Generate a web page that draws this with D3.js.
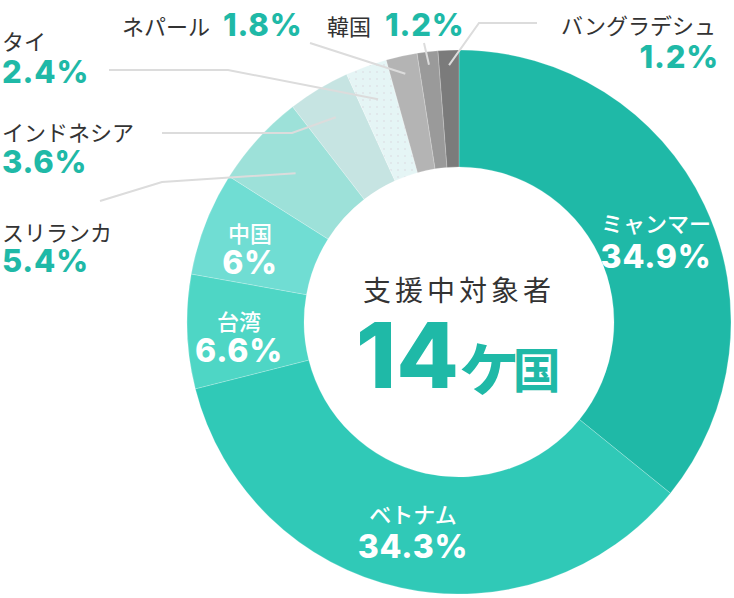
<!DOCTYPE html>
<html><head><meta charset="utf-8">
<script src="https://cdn.jsdelivr.net/npm/d3@7"></script>
<style>
html,body{margin:0;padding:0;background:#fff;}
svg{display:block;}
.jp{font-family:"Noto Sans CJK JP","Noto Sans",sans-serif;}
.num{font-family:Inter,"Noto Sans",sans-serif;font-weight:800;}
</style></head>
<body>
<svg id="chart" width="734" height="598"></svg>
<script>
const countries = ["ミャンマー","ベトナム","台湾","中国","スリランカ","インドネシア","タイ","ネパール","韓国","バングラデシュ"];
const shares = [34.9, 34.3, 6.6, 6, 5.4, 3.6, 2.4, 1.8, 1.2, 1.2];
const sliceColors = ["#1fb9a7","#30c9b7","#4ed6c5","#70ddd3","#9de1d9","#c6e4e2","#e5f5f5","#b4b4b4","#9a9a9a","#7b7b7b"];
const centerTitle = "支援中対象者";
const centerCount = "14";
const centerUnit = ["ヶ","国"];

// layout (positions only)
const cx = 459, cy = 322, rIn = 155, rOut = 272;
const inside = {
  "ミャンマー":{x:656, y1:232, y2:268},
  "ベトナム":{x:413, y1:523, y2:558},
  "台湾":{x:239, y1:330, y2:362},
  "中国":{x:250, y1:242, y2:274}
};
const outside = {
  "スリランカ":{nx:2,ny:241,vx:2,vy:272,anchor:"start",r:221,pts:[[100,201],[162,182]]},
  "インドネシア":{nx:2,ny:141,vx:2,vy:173,anchor:"start",r:239,pts:[[162,133],[292,133]]},
  "タイ":{nx:2,ny:50,vx:2,vy:83,anchor:"start",r:237,pts:[[109,70],[228,70]]},
  "ネパール":{nx:122,ny:35,vx:223,vy:36,anchor:"start",r:254,pts:[[310,43]]},
  "韓国":{nx:327,ny:35,vx:385,vy:36,anchor:"start",r:259,pts:[[424,43]]},
  "バングラデシュ":{nx:716,ny:34,vx:719,vy:68,anchor:"end",r:257,pts:[[537,23],[479,23]]}
};

const svg = d3.select("#chart");
const defs = svg.append("defs");
const pat = defs.append("pattern").attr("id","dots").attr("patternUnits","userSpaceOnUse")
  .attr("width",7).attr("height",7);
pat.append("rect").attr("width",7).attr("height",7).attr("fill",sliceColors[6]);
pat.append("circle").attr("cx",2).attr("cy",2).attr("r",0.7).attr("fill","#d9d2da");

const data = countries.map((c,i)=>({name:c, value:shares[i], color:sliceColors[i], idx:i}));
const pie = d3.pie().value(d=>d.value).sort(null);
const arcs = pie(data);
const arc = d3.arc().innerRadius(rIn).outerRadius(rOut);

const g = svg.append("g").attr("transform",`translate(${cx},${cy})`);
g.selectAll("path.slice").data(arcs).join("path")
  .attr("class","slice")
  .attr("d",arc)
  .attr("fill",d=>d.data.idx===6?"url(#dots)":d.data.color)
  .attr("stroke","#ffffff").attr("stroke-opacity",0.35).attr("stroke-width",0.6);

// leader lines
const lineG = svg.append("g");
arcs.forEach(a=>{
  const o = outside[a.data.name];
  if(!o) return;
  const pArc = d3.arc().innerRadius(o.r).outerRadius(o.r);
  const c = pArc.centroid(a);
  const pts = o.pts.concat([[c[0]+cx, c[1]+cy]]);
  lineG.append("path").attr("d", d3.line()(pts))
    .attr("fill","none").attr("stroke","#dcdcdc").attr("stroke-width",2);
});

// outside labels
arcs.forEach(a=>{
  const o = outside[a.data.name];
  if(!o) return;
  svg.append("text").attr("class","jp").attr("x",o.nx).attr("y",o.ny)
    .attr("text-anchor",o.anchor).attr("font-size",22).attr("fill","#333")
    .text(a.data.name);
  svg.append("text").attr("class","num").attr("x",o.vx).attr("y",o.vy)
    .attr("text-anchor",o.anchor).attr("font-size",31).attr("letter-spacing",0.8).attr("fill","#1fb9a7")
    .text(a.data.value+"%");
});

// inside labels
arcs.forEach(a=>{
  const o = inside[a.data.name];
  if(!o) return;
  svg.append("text").attr("class","jp").attr("x",o.x).attr("y",o.y1)
    .attr("text-anchor","middle").attr("font-size",22).attr("font-weight",500).attr("fill","#fff")
    .text(a.data.name);
  svg.append("text").attr("class","num").attr("x",o.x).attr("y",o.y2)
    .attr("text-anchor","middle").attr("font-size",32).attr("letter-spacing",0.8).attr("fill","#fff")
    .text(a.data.value+"%");
});

// center
svg.append("text").attr("class","jp").attr("x",cx).attr("y",301)
  .attr("text-anchor","middle").attr("font-size",28).attr("letter-spacing",4).attr("fill","#333")
  .text(centerTitle);
const ct = svg.append("text").attr("x",356).attr("y",388).attr("text-anchor","start").attr("fill","#1fb9a7");
ct.append("tspan").attr("class","num").attr("font-size",91).text(centerCount);
ct.append("tspan").attr("class","jp").attr("font-weight",700).attr("font-size",70).attr("dx",-4).text(centerUnit[0]);
ct.append("tspan").attr("class","jp").attr("font-weight",700).attr("font-size",48).attr("dx",-12).text(centerUnit[1]);
</script>
</body></html>
